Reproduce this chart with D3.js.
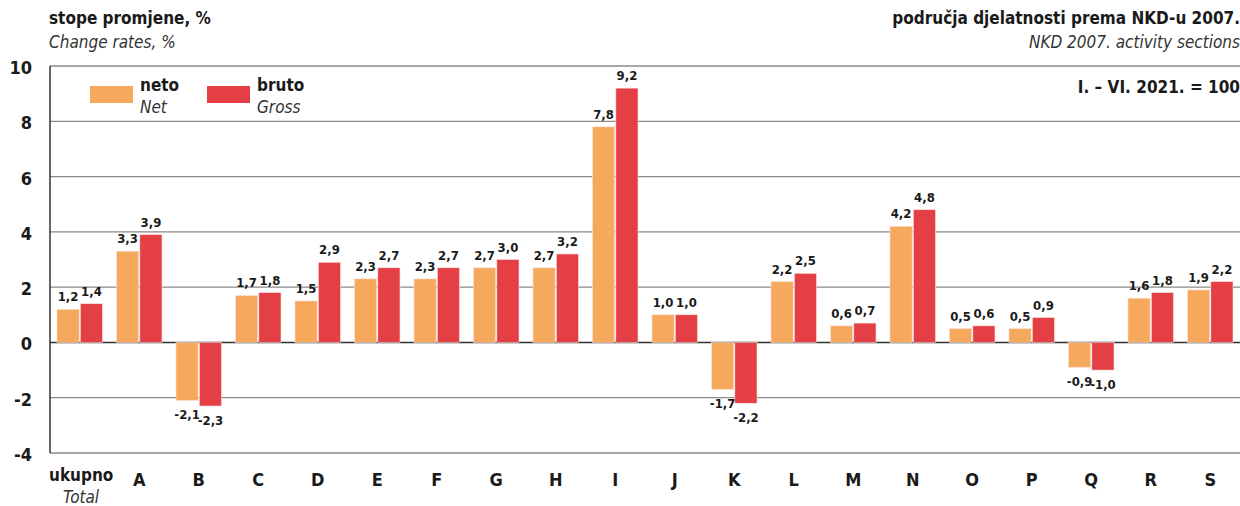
<!DOCTYPE html>
<html>
<head>
<meta charset="utf-8">
<script src="https://cdn.jsdelivr.net/npm/d3@7"></script>
<style>
  body { margin: 0; background: #fff; }
  svg { display: block; font-family: "DejaVu Sans Condensed", "Liberation Sans", sans-serif; }
</style>
</head>
<body>
<svg id="chart"></svg>
<script>
const categories = ["ukupno", "A", "B", "C", "D", "E", "F", "G", "H", "I", "J", "K", "L", "M", "N", "O", "P", "Q", "R", "S"];
const neto = [1.2, 3.3, -2.1, 1.7, 1.5, 2.3, 2.3, 2.7, 2.7, 7.8, 1.0, -1.7, 2.2, 0.6, 4.2, 0.5, 0.5, -0.9, 1.6, 1.9];
const bruto = [1.4, 3.9, -2.3, 1.8, 2.9, 2.7, 2.7, 3.0, 3.2, 9.2, 1.0, -2.2, 2.5, 0.7, 4.8, 0.6, 0.9, -1.0, 1.8, 2.2];
const yTicks = [-4, -2, 0, 2, 4, 6, 8, 10];
const seriesKeys = ["neto", "bruto"];
const seriesColor = { neto: "#F6A85D", bruto: "#E43F45" };

const width = 1240, height = 506;
const margin = { top: 66, right: 0, bottom: 53, left: 50 };
const ink = "#1a1a1a";

const svg = d3.select("#chart").attr("width", width).attr("height", height);

const y = d3.scaleLinear()
    .domain([-4, 10])
    .range([height - margin.bottom, margin.top]);

const x0 = d3.scaleBand()
    .domain(categories)
    .range([margin.left, width - margin.right])
    .paddingInner(0.235)
    .paddingOuter(0.1175);

const x1 = d3.scaleBand()
    .domain(seriesKeys)
    .range([0, x0.bandwidth()])
    .paddingInner(0.05);

const fmt = function (v) { return d3.format(".1f")(v).replace(".", ",").replace("−", "-"); };

const data = categories.map(function (c, i) {
    return { cat: c, values: [{ key: "neto", v: neto[i] }, { key: "bruto", v: bruto[i] }] };
});

// grid lines
svg.append("g").attr("class", "grid")
    .selectAll("line")
    .data(yTicks)
    .enter()
    .append("line")
    .attr("x1", margin.left)
    .attr("x2", width - margin.right)
    .attr("y1", function (d) { return y(d); })
    .attr("y2", function (d) { return y(d); })
    .attr("stroke", function (d) { return d === 0 ? "#333" : "#8a8a8a"; })
    .attr("stroke-width", function (d) { return d === 0 ? 1.6 : 1.3; });

// y tick labels
svg.append("g").attr("class", "ylabels")
    .selectAll("text")
    .data(yTicks)
    .enter()
    .append("text")
    .attr("x", 32)
    .attr("y", function (d) { return y(d) + 8; })
    .attr("text-anchor", "end")
    .attr("font-size", 18)
    .attr("font-weight", "bold")
    .attr("fill", ink)
    .text(function (d) { return String(d); });

// bars
const groups = svg.append("g").attr("class", "bars")
    .selectAll("g")
    .data(data)
    .enter()
    .append("g")
    .attr("transform", function (d) { return "translate(" + x0(d.cat) + ",0)"; });

groups.selectAll("rect")
    .data(function (d) { return d.values; })
    .enter()
    .append("rect")
    .attr("x", function (d) { return x1(d.key); })
    .attr("width", x1.bandwidth())
    .attr("y", function (d) { return y(Math.max(0, d.v)); })
    .attr("height", function (d) { return Math.abs(y(d.v) - y(0)); })
    .attr("fill", function (d) { return seriesColor[d.key]; })
    .attr("stroke", "#fbe3dc")
    .attr("stroke-width", 0.6);

groups.selectAll("text")
    .data(function (d) { return d.values; })
    .enter()
    .append("text")
    .attr("x", function (d) { return x1(d.key) + x1.bandwidth() / 2; })
    .attr("y", function (d) { return d.v >= 0 ? y(d.v) - 8 : y(d.v) + 19; })
    .attr("text-anchor", "middle")
    .attr("font-size", 13)
    .attr("font-weight", "bold")
    .attr("fill", ink)
    .text(function (d) { return fmt(d.v); });

// left axis line
svg.append("line")
    .attr("x1", margin.left).attr("x2", margin.left)
    .attr("y1", y(10)).attr("y2", y(-4))
    .attr("stroke", "#333").attr("stroke-width", 1.5);

// x labels
const xl = svg.append("g").attr("class", "xlabels");
xl.selectAll("text")
    .data(categories)
    .enter()
    .append("text")
    .attr("x", function (d) { return d === "ukupno" ? 49 : x0(d) + x0.bandwidth() / 2; })
    .attr("y", function (d) { return d === "ukupno" ? 481 : 486; })
    .attr("text-anchor", function (d) { return d === "ukupno" ? "start" : "middle"; })
    .attr("font-size", function (d) { return d === "ukupno" ? 17 : 18; })
    .attr("font-weight", "bold")
    .attr("fill", ink)
    .text(function (d) { return d; });
xl.append("text")
    .attr("x", 81)
    .attr("y", 503)
    .attr("text-anchor", "middle")
    .attr("font-size", 17)
    .attr("font-style", "italic")
    .attr("fill", "#333")
    .text("Total");

// titles
svg.append("text").attr("x", 49).attr("y", 24)
    .attr("font-size", 17).attr("font-weight", "bold").attr("fill", ink)
    .text("stope promjene, %");
svg.append("text").attr("x", 49).attr("y", 48)
    .attr("font-size", 17).attr("font-style", "italic").attr("fill", "#333")
    .text("Change rates, %");
svg.append("text").attr("x", 1240).attr("y", 24)
    .attr("text-anchor", "end")
    .attr("font-size", 17).attr("font-weight", "bold").attr("fill", ink)
    .text("područja djelatnosti prema NKD-u 2007.");
svg.append("text").attr("x", 1240).attr("y", 48)
    .attr("text-anchor", "end")
    .attr("font-size", 17).attr("font-style", "italic").attr("fill", "#333")
    .text("NKD 2007. activity sections");
svg.append("text").attr("x", 1240).attr("y", 93)
    .attr("text-anchor", "end")
    .attr("font-size", 17).attr("font-weight", "bold").attr("fill", ink)
    .text("I. – VI. 2021. = 100");

// legend
const legendItems = [
    { key: "neto", label: "neto", en: "Net", x: 90 },
    { key: "bruto", label: "bruto", en: "Gross", x: 207 }
];
const legend = svg.append("g").attr("class", "legend")
    .selectAll("g")
    .data(legendItems)
    .enter()
    .append("g")
    .attr("transform", function (d) { return "translate(" + d.x + ",0)"; });
legend.append("rect")
    .attr("x", 0).attr("y", 86)
    .attr("width", 43).attr("height", 17)
    .attr("fill", function (d) { return seriesColor[d.key]; });
legend.append("text")
    .attr("x", 50).attr("y", 91)
    .attr("font-size", 17).attr("font-weight", "bold").attr("fill", ink)
    .text(function (d) { return d.label; });
legend.append("text")
    .attr("x", 50).attr("y", 113)
    .attr("font-size", 17).attr("font-style", "italic").attr("fill", "#333")
    .text(function (d) { return d.en; });
</script>
</body>
</html>
